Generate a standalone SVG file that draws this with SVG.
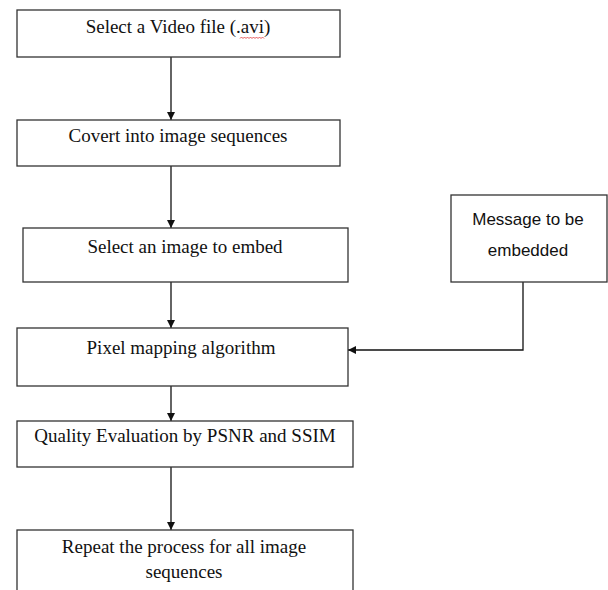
<svg xmlns="http://www.w3.org/2000/svg" width="608" height="590" viewBox="0 0 608 590">
<style>
.box{fill:#fff;stroke:#333;stroke-width:1.3}
.t{font-family:"Liberation Serif","Times New Roman",serif;font-size:19px;fill:#111;text-anchor:middle}
.s{font-family:"Liberation Sans",Arial,sans-serif;font-size:17px;fill:#111;text-anchor:middle}
.c{fill:none;stroke:#111;stroke-width:1.3}
</style>
<defs>
<marker id="ah" viewBox="0 0 10 10" refX="10" refY="5" markerWidth="8" markerHeight="9" markerUnits="userSpaceOnUse" orient="auto">
<path d="M0,0 L10,5 L0,10 z" fill="#111"/>
</marker>
</defs>
<rect width="608" height="590" fill="#fff"/>
<g id="connectors">
<line class="c" x1="171" y1="57" x2="171" y2="120" marker-end="url(#ah)"/>
<line class="c" x1="171" y1="166" x2="171" y2="228" marker-end="url(#ah)"/>
<line class="c" x1="171" y1="282" x2="171" y2="328" marker-end="url(#ah)"/>
<polyline class="c" points="523,282 523,350 348,350" marker-end="url(#ah)"/>
<line class="c" x1="171" y1="386" x2="171" y2="421" marker-end="url(#ah)"/>
<line class="c" x1="171" y1="467" x2="171" y2="530" marker-end="url(#ah)"/>
</g>
<g id="n1">
<rect class="box" x="17" y="10" width="323" height="47"/>
<text class="t" x="178" y="33">Select a Video file (.avi)</text>
<path d="M240,38.5 l1.5,-1.5 l1.5,1.5 l1.5,-1.5 l1.5,1.5 l1.5,-1.5 l1.5,1.5 l1.5,-1.5 l1.5,1.5 l1.5,-1.5 l1.5,1.5 l1.5,-1.5 l1.5,1.5 l1.5,-1.5 l1.5,1.5 l1.5,-1.5 l1.5,1.5" fill="none" stroke="#e03030" stroke-width="0.8"/>
</g>
<g id="n2">
<rect class="box" x="17" y="120" width="323" height="46"/>
<text class="t" x="178" y="142">Covert into image sequences</text>
</g>
<g id="n3">
<rect class="box" x="23" y="228" width="325" height="54"/>
<text class="t" x="185" y="253">Select an image to embed</text>
</g>
<g id="n4">
<rect class="box" x="17" y="328" width="331" height="58"/>
<text class="t" x="181" y="354">Pixel mapping algorithm</text>
</g>
<g id="n5">
<rect class="box" x="451" y="195" width="156" height="87"/>
<text class="s" x="528" y="225">Message to be</text>
<text class="s" x="528" y="256">embedded</text>
</g>
<g id="n6">
<rect class="box" x="17" y="421" width="336" height="46"/>
<text class="t" x="185" y="442">Quality Evaluation by PSNR and SSIM</text>
</g>
<g id="n7">
<rect class="box" x="17" y="530" width="336" height="70"/>
<text class="t" x="184" y="553">Repeat the process for all image</text>
<text class="t" x="184" y="578">sequences</text>
</g>
</svg>
